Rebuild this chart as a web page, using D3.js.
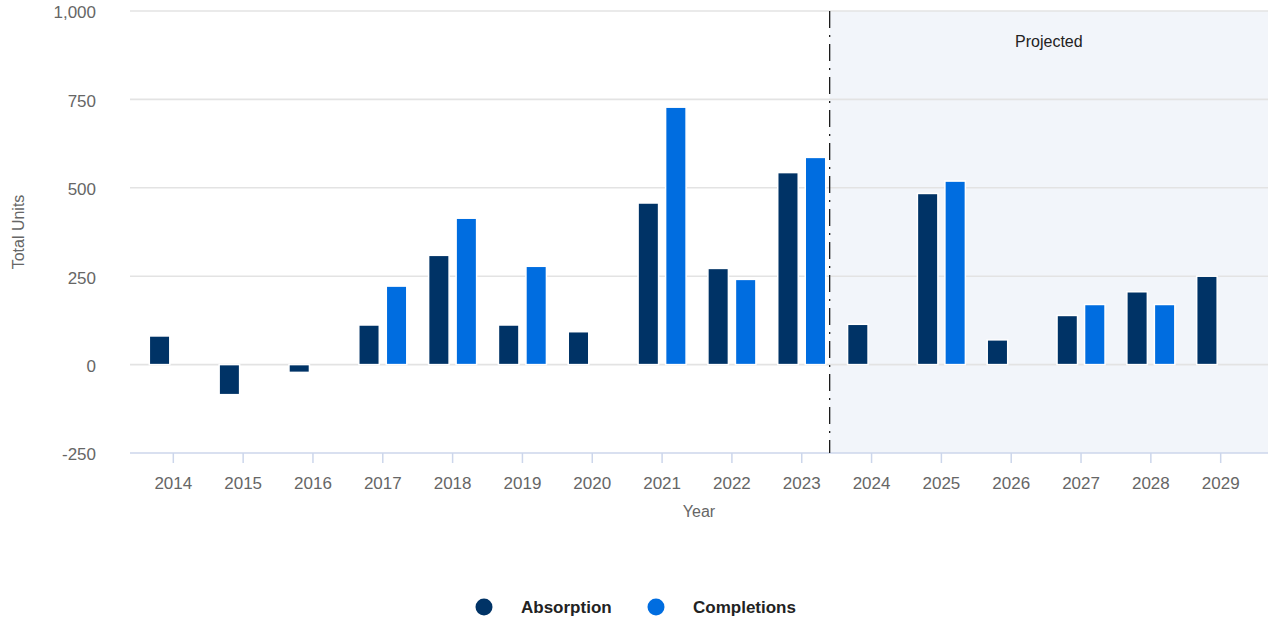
<!DOCTYPE html>
<html>
<head>
<meta charset="utf-8">
<script src="https://cdn.jsdelivr.net/npm/d3@7"></script>
<style>
  html, body { margin: 0; padding: 0; background: #ffffff; }
  svg { display: block; font-family: "Liberation Sans", Arial, Helvetica, sans-serif; }
</style>
</head>
<body>
<svg id="chart" width="1268" height="621"></svg>
<script>
// Yearly housing units: absorption vs. completions (2024 onward projected)
const years = ["2014","2015","2016","2017","2018","2019","2020","2021","2022","2023","2024","2025","2026","2027","2028","2029"];
const absorption  = [81, -85, -22, 112, 309, 112, 93, 457, 272, 543, 114, 484, 70, 139, 206, 250];
const completions = [null, null, null, 222, 414, 278, null, 728, 241, 586, null, 519, null, 170, 170, null];
const seriesNames = ["Absorption", "Completions"];
const seriesColors = ["#003366", "#006de0"];
const yTicks = [-250, 0, 250, 500, 750, 1000];
const projectedFrom = 2023.4;   // projection begins between 2023 and 2024
const projectedLabel = "Projected";

const svg = d3.select("#chart");
const plot = { left: 130, right: 1268, top: 11, bottom: 453 };

const x = d3.scaleBand().domain(years).range([138.4, 1255.6]).paddingInner(0).paddingOuter(0);
const inner = d3.scaleBand().domain(seriesNames).range([-24, 24]).paddingInner(0.255);
const y = d3.scaleLinear().domain([-250, 1000]).range([plot.bottom, plot.top]);

// position of a fractional year on the category axis
const yearPos = v => {
  const base = Math.floor(v);
  return x(String(base)) + x.bandwidth() / 2 + (v - base) * x.step();
};

// projected plot band
const bandX = yearPos(projectedFrom);
svg.append("rect")
  .attr("x", bandX).attr("y", plot.top)
  .attr("width", plot.right - bandX).attr("height", plot.bottom - plot.top)
  .attr("fill", "#f2f5fa");

// horizontal grid + y labels (plain hyphen for negatives)
const fmt = d3.format(",");
const yAxis = d3.axisLeft(y).tickValues(yTicks).tickSize(0).tickPadding(0)
  .tickFormat(d => fmt(d).replace("\u2212", "-"));
const gy = svg.append("g").attr("transform", `translate(96,0)`).call(yAxis);
gy.select(".domain").remove();
gy.selectAll("text").attr("fill", "#666666").attr("font-size", "17px").attr("dy", "0.4em");

svg.append("g").selectAll("line")
  .data(yTicks.filter(t => t !== -250))
  .join("line")
  .attr("x1", plot.left).attr("x2", plot.right)
  .attr("y1", d => y(d)).attr("y2", d => y(d))
  .attr("stroke", "#e3e3e3").attr("stroke-width", 1.6);

// x axis
const xAxis = d3.axisBottom(x).tickSize(10).tickSizeOuter(0).tickPadding(6);
const gx = svg.append("g").attr("transform", `translate(0,${plot.bottom})`).call(xAxis);
gx.select(".domain").remove();
gx.selectAll(".tick line").attr("stroke", "#ccd6eb").attr("stroke-width", 1.5);
gx.selectAll("text").attr("fill", "#666666").attr("font-size", "17px").attr("dy", "1.15em");
svg.append("line")
  .attr("x1", plot.left).attr("x2", plot.right)
  .attr("y1", plot.bottom).attr("y2", plot.bottom)
  .attr("stroke", "#ccd6eb").attr("stroke-width", 1.5);

// bars
const rows = [];
years.forEach((yr, i) => {
  [absorption[i], completions[i]].forEach((v, s) => {
    if (v !== null) rows.push({ year: yr, series: seriesNames[s], value: v, color: seriesColors[s] });
  });
});
svg.append("g").selectAll("rect")
  .data(rows)
  .join("rect")
  .attr("x", d => x(d.year) + x.bandwidth() / 2 + inner(d.series))
  .attr("width", inner.bandwidth())
  .attr("y", d => y(Math.max(0, d.value)))
  .attr("height", d => Math.abs(y(d.value) - y(0)))
  .attr("fill", d => d.color)
  .attr("stroke", "#ffffff").attr("stroke-width", 1.5);

// projection divider
svg.append("line")
  .attr("x1", bandX).attr("x2", bandX)
  .attr("y1", plot.top).attr("y2", plot.bottom)
  .attr("stroke", "#1a1a1a").attr("stroke-width", 1.3)
  .attr("stroke-dasharray", "17,7,2,7");

svg.append("text")
  .attr("x", (bandX + plot.right) / 2).attr("y", 47)
  .attr("text-anchor", "middle").attr("font-size", "16px").attr("fill", "#222222")
  .text(projectedLabel);

// axis titles
svg.append("text")
  .attr("x", 699).attr("y", 517)
  .attr("text-anchor", "middle").attr("font-size", "16px").attr("fill", "#666666")
  .text("Year");
svg.append("text")
  .attr("transform", "translate(24,232) rotate(-90)")
  .attr("text-anchor", "middle").attr("font-size", "16px").attr("fill", "#666666")
  .text("Total Units");

// legend
const legendX = [484, 656];
const legend = svg.append("g").selectAll("g")
  .data(seriesNames)
  .join("g")
  .attr("transform", (d, i) => `translate(${legendX[i]},607)`);
legend.append("circle").attr("r", 8.5).attr("fill", (d, i) => seriesColors[i]);
legend.append("text")
  .attr("x", 37).attr("dy", "0.35em")
  .attr("font-size", "17px").attr("font-weight", "bold").attr("fill", "#222222")
  .text(d => d);
</script>
</body>
</html>
